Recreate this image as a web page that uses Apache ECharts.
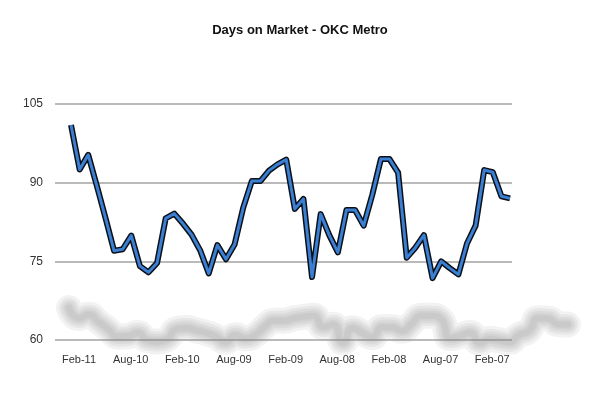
<!DOCTYPE html>
<html>
<head>
<meta charset="utf-8">
<script src="https://cdn.jsdelivr.net/npm/echarts@6/dist/echarts.min.js"></script>
<style>
html,body{margin:0;padding:0;background:#fff;}
#c{width:600px;height:405px;}
</style>
</head>
<body>
<div id="c"></div>
<script>
const months = ['Feb-11','Jan-11','Dec-10','Nov-10','Oct-10','Sep-10','Aug-10','Jul-10','Jun-10','May-10','Apr-10','Mar-10',
  'Feb-10','Jan-10','Dec-09','Nov-09','Oct-09','Sep-09','Aug-09','Jul-09','Jun-09','May-09','Apr-09','Mar-09',
  'Feb-09','Jan-09','Dec-08','Nov-08','Oct-08','Sep-08','Aug-08','Jul-08','Jun-08','May-08','Apr-08','Mar-08',
  'Feb-08','Jan-08','Dec-07','Nov-07','Oct-07','Sep-07','Aug-07','Jul-07','Jun-07','May-07','Apr-07','Mar-07',
  'Feb-07','Jan-07','Dec-06','Nov-06'];
const daysOnMarket = [101, 92.5, 95.3, 89.4, 83.3, 77, 77.3, 79.9, 74.1, 72.9, 74.7, 83.2,
  84.1, 82.2, 80.1, 77.1, 72.7, 78.1, 75.4, 78.2, 85.2, 90.3, 90.3, 92.3,
  93.5, 94.4, 85, 86.9, 72, 84, 80, 76.7, 84.8, 84.8, 81.8, 87.7,
  94.5, 94.5, 91.9, 75.7, 77.6, 80, 71.8, 75, 73.7, 72.5, 78.4, 81.8,
  92.4, 92, 87.4, 87];
const labelMonths = [0, 6, 12, 18, 24, 30, 36, 42, 48];
const yTicks = { min: 60, max: 105, interval: 15 };

const pairs = daysOnMarket.map((v, i) => [i, v]);
const font = "'Liberation Sans', Arial, Helvetica, sans-serif";

// soft floor reflection: same data, stacked translucent strokes
const shadowWidths = [26, 20, 15, 10, 6];
const shadowSeries = shadowWidths.map(w => ({
  type: 'line', xAxisIndex: 1, yAxisIndex: 1, data: pairs,
  symbol: 'none', smooth: 0.6, silent: true, z: 1, clip: false,
  lineStyle: { color: 'rgba(140,140,140,0.11)', width: w, cap: 'round', join: 'round' }
}));

const chart = echarts.init(document.getElementById('c'), null, { renderer: 'canvas' });
chart.setOption({
  animation: false,
  backgroundColor: '#ffffff',
  title: {
    text: 'Days on Market - OKC Metro',
    left: 'center',
    top: 19,
    textStyle: { fontFamily: font, fontSize: 13, fontWeight: 'bold', color: '#111' }
  },
  grid: [
    { left: 55, right: 88, top: 104, bottom: 65 },
    { left: 69, right: 32, top: 302, height: 50 }
  ],
  xAxis: [
    {
      type: 'value', gridIndex: 0, min: -1.86, max: 51.23,
      axisLine: { show: false }, axisTick: { show: false }, splitLine: { show: false },
      axisLabel: {
        customValues: labelMonths,
        formatter: v => months[v],
        margin: 14,
        padding: [0, 0, 0, 16],
        fontFamily: font, fontSize: 11, color: '#333'
      }
    },
    { type: 'value', gridIndex: 1, min: 0, max: 51, show: false }
  ],
  yAxis: [
    {
      type: 'value', gridIndex: 0, min: yTicks.min, max: yTicks.max, interval: yTicks.interval,
      axisLine: { show: false }, axisTick: { show: false },
      axisLabel: { margin: 12, fontFamily: font, fontSize: 12, color: '#333' },
      splitLine: { lineStyle: { color: '#a3a3a3', width: 1.5 } }
    },
    { type: 'value', gridIndex: 1, min: 64, max: 106, show: false }
  ],
  series: shadowSeries.concat([
    {
      type: 'line', xAxisIndex: 0, yAxisIndex: 0, data: pairs,
      symbol: 'none', z: 5,
      lineStyle: { color: '#0b0f16', width: 6, join: 'round' }
    },
    {
      type: 'line', xAxisIndex: 0, yAxisIndex: 0, data: pairs,
      symbol: 'none', z: 6,
      lineStyle: { color: '#3b7fd3', width: 3, join: 'round' }
    }
  ])
});
</script>
</body>
</html>
